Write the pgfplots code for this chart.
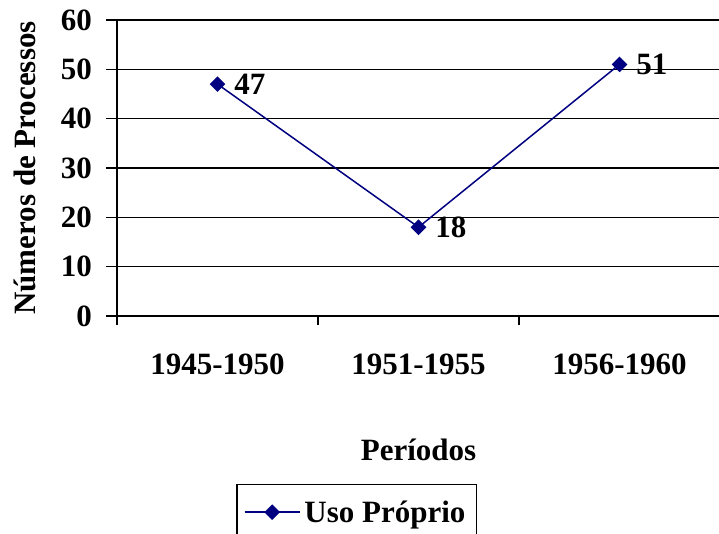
\documentclass[border=0pt]{standalone}
\usepackage{pgfplots}
\pgfplotsset{compat=1.18}
\usepackage{fontspec}
\setmainfont{Liberation Serif}
\definecolor{navy}{RGB}{0,0,128}
\newcommand{\lbl}{\fontsize{31}{36}\selectfont\bfseries}
\begin{document}
\begin{tikzpicture}
\useasboundingbox (-117pt,-218pt) rectangle (602pt,316pt);
\clip (-117pt,-218pt) rectangle (602pt,316pt);
\begin{axis}[
 at={(0pt,0pt)}, anchor=south west,
 scale only axis, width=603pt, height=296pt,
 xmin=-0.5, xmax=2.5, ymin=0, ymax=60,
 axis x line*=bottom, axis y line*=left,
 axis line style={line width=1.4pt,-,black},
 xtick={0,1,2}, xticklabels={1945-1950,1951-1955,1956-1960},
 minor xtick={-0.5,0.5,1.5,2.5},
 ytick={0,10,...,60},
 tick align=outside,
 major tick length=11pt, minor tick length=9pt,
 major x tick style={draw=none},
 minor x tick style={line width=1.4pt, black},
 major y tick style={line width=1.4pt, black},
 ymajorgrids, grid style={line width=1.4pt, black},
 /pgf/number format/assume math mode=true,
 ticklabel style={font=\lbl, inner sep=0pt},
 xticklabel style={anchor=north, yshift=-27pt},
 yticklabel style={anchor=east, xshift=-14pt},
 xlabel={Períodos}, ylabel={Números de Processos},
 xlabel style={font=\lbl, inner sep=0pt, at={(axis description cs:0.5,-0.488)}, anchor=base},
 ylabel style={font=\lbl, inner sep=0pt, at={(axis description cs:-0.1528,0.5)}, anchor=center},
 legend style={at={(axis description cs:0.1977,-0.5676)}, anchor=north west, draw=black, line width=1.4pt, inner xsep=7pt, inner ysep=12pt, nodes={inner sep=4pt, font=\lbl}},
 legend image code/.code={\draw[mark repeat=2,mark phase=2,#1] plot coordinates {(0pt,0pt) (27.5pt,0pt) (55pt,0pt)};},
 nodes near coords,
 every node near coord/.append style={font=\lbl, anchor=west, xshift=16pt, inner sep=0pt, text=black},
]
\addplot[navy, line width=1.5pt, mark=square*, mark size=4.8pt, mark options={rotate=45, solid, fill=navy}] coordinates {(0,47) (1,18) (2,51)};
\addlegendentry{Uso Próprio}
\end{axis}
\end{tikzpicture}
\end{document}
